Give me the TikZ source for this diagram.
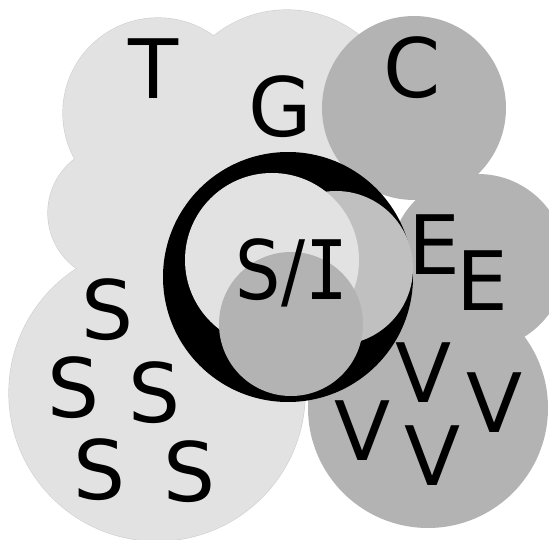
\documentclass[tikz,border=0pt]{standalone}
\usepackage{fontspec}
\setmainfont{DejaVu Sans}
\newfontfamily\serifI{DejaVu Sans Mono}
\definecolor{paleGrey}{RGB}{226,226,226}
\definecolor{paleEdge}{RGB}{208,208,208}
\definecolor{midGrey}{RGB}{192,192,192}
\definecolor{darkGrey}{RGB}{179,179,179}
\tikzset{
  letter/.style={anchor=base, inner sep=0pt, font=\fontsize{82}{82}\selectfont},
}
\begin{document}
\begin{tikzpicture}[x=1pt,y=-1pt]
\useasboundingbox (0,0) rectangle (549,540);
\begin{scope}
\clip (0,0) rectangle (549,540);
% pale blob, rims first and fills on top
\foreach \cx/\cy/\r in {158/113/95, 287/126/116, 116/213/68, 157/393/148}
  \draw[paleEdge, line width=1.2pt] (\cx,\cy) circle (\r pt);
\foreach \cx/\cy/\r in {158/113/95, 287/126/116, 116/213/68, 157/393/148}
  \fill[paleGrey] (\cx,\cy) circle (\r pt);
% dark blob
\foreach \cx/\cy/\r in {414/108/92, 478/262/88, 428/408/120}
  \fill[darkGrey] (\cx,\cy) circle (\r pt);
% the ring in the middle
\fill[black] (288,277) circle (125pt);
\fill[midGrey] (336,268) circle (77pt);
\fill[paleGrey] (272,260) circle (87pt);
\fill[darkGrey] (291,324) circle (72pt);
\end{scope}

\node[letter] (t) at (154,99) {T};
\node[letter] (g) at (280,137) {G};
\node[letter] (c) at (412,98) {C};
\node[letter] (e1) at (434,275) {E};
\node[letter] (e2) at (482,310) {E};
\node[letter, xscale=0.87] (si) at (292,299) {S/\serifI I};

\node[letter] (s1) at (108,339) {S};
\node[letter] (s2) at (74,417) {S};
\node[letter] (s3) at (155,422) {S};
\node[letter] (s4) at (100,499) {S};
\node[letter] (s5) at (190,501) {S};

\node[letter] (v1) at (424,402) {V};
\node[letter] (v2) at (363,460) {V};
\node[letter] (v3) at (495,432) {V};
\node[letter] (v4) at (433,485) {V};
\end{tikzpicture}
\end{document}
